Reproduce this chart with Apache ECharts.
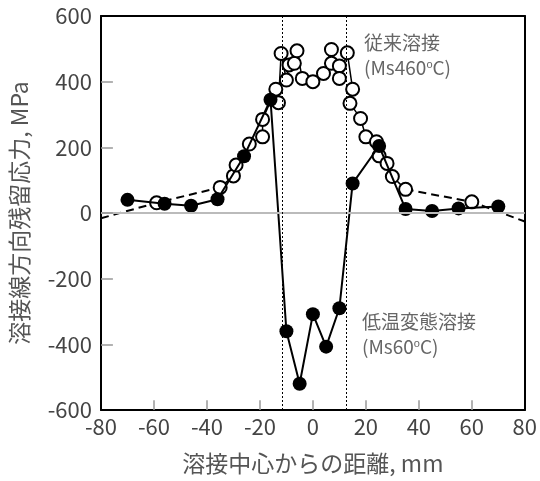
<!DOCTYPE html>
<html>
<head>
<meta charset="utf-8">
<script src="https://cdn.jsdelivr.net/npm/echarts@6/dist/echarts.min.js"></script>
<style>
html, body { margin: 0; padding: 0; background: #fff; }
#chart { width: 540px; height: 481px; }
</style>
</head>
<body>
<div id="chart"></div>
<script>
// 低温変態溶接 (filled)
var lowX = [-70, -56, -46, -36, -26, -16, -10, -5, 0, 5, 10, 15, 25, 35, 45, 55, 70];
var lowY = [40, 28, 22, 42, 173, 345, -360, -520, -308, -407, -290, 90, 204, 12, 6, 14, 20];

// 従来溶接 (open), centre part joined with a solid line
var convX = [-35, -30, -29, -24, -19, -19, -14, -13, -12, -10, -9, -7, -6, -4, 0, 4, 7, 7, 10, 10, 13, 15, 14, 18, 20, 24, 25, 28, 30, 35];
var convY = [78, 113, 146, 210, 232, 285, 377, 336, 486, 405, 451, 456, 494, 410, 400, 425, 498, 456, 448, 410, 488, 377, 334, 288, 232, 217, 174, 151, 111, 72];

// dashed tails of 従来溶接
var tailLeftX = [-80, -59, -35];
var tailLeftY = [-16, 31, 78];
var tailRightX = [35, 60, 80];
var tailRightY = [72, 34, -26];
var tailMarks = [-59, 60];

var xTicks = { min: -80, max: 80, step: 20 };
var yTicks = { min: -600, max: 600, step: 200 };
var xTickVals = [-60, -40, -20, 0, 20, 40, 60];
var yTickVals = [-400, -200, 0, 200, 400];
var fusionLines = [-11.5, 12.5];

var zip = function (xs, ys) {
    var out = [];
    for (var i = 0; i < xs.length; i++) out.push([xs[i], ys[i]]);
    return out;
};

var tailData = function (xs, ys) {
    return zip(xs, ys).map(function (p) {
        if (tailMarks.indexOf(p[0]) >= 0) return { value: p, symbol: 'circle' };
        return { value: p, symbol: 'none' };
    });
};

// short inward tick marks on the bottom and left edges
var tickMarks = function () {
    var segs = [];
    xTickVals.forEach(function (v) {
        segs.push([{ coord: [v, yTicks.min] }, { coord: [v, yTicks.min + 30] }]);
    });
    yTickVals.forEach(function (v) {
        segs.push([{ coord: [xTicks.min, v] }, { coord: [xTicks.min + 4.5, v] }]);
    });
    return segs;
};

var font = '"Noto Sans CJK JP", "Noto Sans", sans-serif';

var myChart = echarts.init(document.getElementById('chart'));

var openItem = { color: '#fff', borderColor: '#000', borderWidth: 2 };
var boxLine = { show: true, onZero: false, lineStyle: { color: '#000', width: 2 } };

// top / right edges of the frame
var frameAxis = function (pos, t) {
    return {
        type: 'value', position: pos, min: t.min, max: t.max, interval: t.step,
        axisLine: boxLine, axisTick: { show: false }, axisLabel: { show: false }, splitLine: { show: false }
    };
};

var option = {
    animation: false,
    grid: { left: 101, right: 15, top: 16, bottom: 71 },
    xAxis: [
        {
            type: 'value', min: xTicks.min, max: xTicks.max, interval: xTicks.step,
            name: '溶接中心からの距離, mm', nameLocation: 'middle', nameGap: 42,
            nameTextStyle: { fontFamily: font, fontSize: 23, color: '#555' },
            axisLine: boxLine,
            axisTick: { show: false },
            axisLabel: { fontFamily: font, fontSize: 22, color: '#444', margin: 6 },
            splitLine: { show: false }
        },
        frameAxis('top', xTicks)
    ],
    yAxis: [
        {
            type: 'value', min: yTicks.min, max: yTicks.max, interval: yTicks.step,
            name: '溶接線方向残留応力, MPa', nameLocation: 'middle', nameGap: 70,
            nameTextStyle: { fontFamily: font, fontSize: 23, color: '#555' },
            axisLine: boxLine,
            axisTick: { show: false },
            axisLabel: { fontFamily: font, fontSize: 22, color: '#444', margin: 9 },
            splitLine: { show: false }
        },
        frameAxis('right', yTicks)
    ],
    series: [
        {
            type: 'line', data: [], silent: true, z: 1,
            markLine: {
                silent: true, symbol: 'none', label: { show: false },
                data: [
                    { yAxis: 0, lineStyle: { color: '#bbb', width: 2, type: 'solid' } },
                    { xAxis: fusionLines[0], lineStyle: { color: '#000', width: 1, type: [2, 2] } },
                    { xAxis: fusionLines[1], lineStyle: { color: '#000', width: 1, type: [2, 2] } }
                ]
            }
        },
        {
            type: 'line', data: [], silent: true, z: 1,
            markLine: {
                silent: true, symbol: 'none', label: { show: false },
                lineStyle: { color: '#999', width: 1.5, type: 'solid' },
                data: tickMarks()
            }
        },
        {
            type: 'line', data: tailData(tailLeftX, tailLeftY), z: 2,
            symbolSize: 13, itemStyle: openItem,
            lineStyle: { color: '#000', width: 2, type: [8, 5] }
        },
        {
            type: 'line', data: tailData(tailRightX, tailRightY), z: 2,
            symbolSize: 13, itemStyle: openItem,
            lineStyle: { color: '#000', width: 2, type: [8, 5] }
        },
        {
            name: '従来溶接', type: 'line', data: zip(convX, convY), z: 3,
            symbol: 'circle', symbolSize: 13, itemStyle: openItem,
            lineStyle: { color: '#000', width: 1.5 }
        },
        {
            name: '低温変態溶接', type: 'line', data: zip(lowX, lowY), z: 4,
            symbol: 'circle', symbolSize: 14, itemStyle: { color: '#000' },
            lineStyle: { color: '#000', width: 2 }
        }
    ],
    graphic: [
        {
            type: 'text', left: 364, top: 30,
            style: {
                text: '従来溶接\n(Ms460{s|o}C)', fontFamily: font, fontSize: 19, lineHeight: 25, fill: '#666',
                rich: { s: { fontSize: 11, fill: '#666', padding: [0, 0, 6, 0] } }
            }
        },
        {
            type: 'text', left: 362, top: 309,
            style: {
                text: '低温変態溶接\n(Ms60{s|o}C)', fontFamily: font, fontSize: 19, lineHeight: 25, fill: '#666',
                rich: { s: { fontSize: 11, fill: '#666', padding: [0, 0, 6, 0] } }
            }
        }
    ]
};

myChart.setOption(option);
</script>
</body>
</html>
